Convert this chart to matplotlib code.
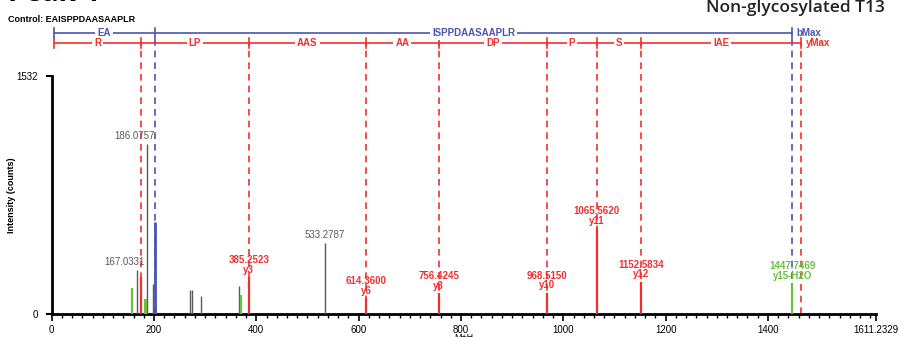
import matplotlib.pyplot as plt
from matplotlib.ticker import MultipleLocator

plt.rcParams['font.family'] = ['Liberation Sans', 'DejaVu Sans']

# peaks
gray_mz = [167.0331, 186.0757, 198.0, 269.4, 274.7, 292.2, 366.8, 533.2787]
gray_int = [284, 1093, 194, 156, 156, 117, 181, 456]
light_mz = [204.5]
light_int = [60]
green_mz = [157.8, 182.0, 185.0, 369.4, 1447.7469]
green_int = [167, 98, 98, 122, 199]
blue_mz = [201.1]
blue_int = [595]
red_mz = [175.3, 385.2523, 614.3600, 756.4245, 968.5150, 1065.5620, 1152.5834]
red_int = [237, 237, 103, 135, 139, 552, 209]

red_labels = [('385.2523', 'y3'), ('614.3600', 'y6'), ('756.4245', 'y8'),
              ('968.5150', 'y10'), ('1065.5620', 'y11'), ('1152.5834', 'y12')]
red_label_mz = [385.2523, 614.3600, 756.4245, 968.5150, 1065.5620, 1152.5834]
red_label_int = [237, 103, 135, 139, 552, 209]

gray_labels = ['167.0331', '186.0757', '533.2787']
gray_label_mz = [142, 161, 533.2787]
gray_label_int = [284, 1093, 456]

# fragment ladder
y_bounds = [4, 175.119, 385.2523, 614.36, 756.4245, 968.515, 1065.562, 1152.5834, 1465.5]
y_names = ['R', 'LP', 'AAS', 'AA', 'DP', 'P', 'S', 'IAE']
b_bounds = [4, 201.1, 1448.0]
b_names = ['EA', 'ISPPDAASAAPLR']

xmax = 1611.2329
ymax = 1532

RED = '#f03030'
BLUE = '#4a55b0'
GREEN = '#6cc040'
GRAY = '#5a5a5a'

fig = plt.figure(figsize=(9.04, 3.37), dpi=100)
ax = fig.add_axes([0.0572, 0.0674, 0.9118, 0.708])
ax.set_xlim(0, xmax)
ax.set_ylim(0, ymax)

y_red_line = 1742
y_blue_line = 1806

# dashed guide lines
for x in y_bounds[1:]:
    ax.plot([x, x], [0, y_red_line], color=RED, lw=1.2, ls=(0, (4, 3)), clip_on=False, zorder=1)
for x in b_bounds[1:]:
    ax.plot([x, x], [0, y_blue_line], color=BLUE, lw=1.2, ls=(0, (4, 3)), clip_on=False, zorder=1)

# peaks
ax.vlines(gray_mz, 0, gray_int, color=GRAY, lw=1.0, zorder=3)
ax.vlines(light_mz, 0, light_int, color='#bbbbbb', lw=1.2, zorder=3)
ax.vlines(green_mz, 0, green_int, color=GREEN, lw=1.6, zorder=3)
ax.vlines(blue_mz, 0, blue_int, color=BLUE, lw=2.0, zorder=3)
ax.vlines(red_mz, 0, red_int, color=RED, lw=1.6, zorder=3)

# peak labels
for (lab, ion), x, h in zip(red_labels, red_label_mz, red_label_int):
    ax.text(x, h + 15, lab + '\n' + ion, color=RED, fontsize=7, fontweight='bold',
            ha='center', va='bottom', linespacing=0.95, zorder=4)
for lab, x, h in zip(gray_labels, gray_label_mz, gray_label_int):
    ax.text(x, h + 20, lab, color=GRAY, fontsize=7, ha='center', va='bottom', zorder=4)
ax.text(1447.7469, 199 + 15, '1447.7469\ny15-H2O', color=GREEN, fontsize=7, fontweight='bold',
        ha='center', va='bottom', linespacing=0.95, zorder=4)

# ladders on top
def ladder(bounds, names, yv, color, end_label):
    ax.plot([bounds[0], bounds[-1]], [yv, yv], color=color, lw=1.2, clip_on=False)
    for x in bounds:
        ax.plot([x, x], [yv - 35, yv + 35], color=color, lw=1.2, clip_on=False)
    for a, b, n in zip(bounds[:-1], bounds[1:], names):
        ax.text((a + b) / 2, yv, n, color=color, fontsize=7, fontweight='bold', ha='center',
                va='center', clip_on=False,
                bbox=dict(facecolor='white', edgecolor='none', pad=1.5))
    ax.text(bounds[-1] + 8, yv, end_label, color=color, fontsize=7, fontweight='bold',
            ha='left', va='center', clip_on=False)

ladder(b_bounds, b_names, y_blue_line, BLUE, 'bMax')
ladder(y_bounds, y_names, y_red_line, RED, 'yMax')

# axes styling
for s in ['top', 'right']:
    ax.spines[s].set_visible(False)
ax.spines['left'].set_linewidth(2)
ax.spines['bottom'].set_linewidth(2)
ax.set_xticks([0, 200, 400, 600, 800, 1000, 1200, 1400, xmax])
ax.set_xticklabels(['0', '200', '400', '600', '800', '1000', '1200', '1400', '1611.2329'])
ax.xaxis.set_minor_locator(MultipleLocator(20))
ax.set_yticks([0, ymax])
ax.set_yticklabels(['0', '1532'])
ax.tick_params(axis='x', which='major', length=5, width=1.2, labelsize=7, pad=3)
ax.tick_params(axis='x', which='minor', length=3, width=1.0)
ax.tick_params(axis='y', length=4, width=1.5, labelsize=7, pad=6)
ax.set_ylabel('Intensity (counts)', fontsize=6.5, fontweight='bold')
ax.yaxis.set_label_coords(-0.043, 0.5)
ax.set_xlabel('M+H', fontsize=6.5, labelpad=-2)

fig.text(0.009, 1 - 19 / 337, 'Control: EAISPPDAASAAPLR', fontsize=6.5, fontweight='bold',
         ha='left', va='center')
fig.text(0.009, 1 - 1 / 337, 'Peak 4', fontsize=20, fontweight='bold',
         family=['Open Sans', 'DejaVu Sans'], ha='left', va='baseline')
fig.text(0.979, 1 - 11.7 / 337, 'Non-glycosylated T13', fontsize=12.5, fontweight='semibold',
         color='#222222', family=['Open Sans', 'DejaVu Sans'], ha='right', va='baseline')

fig.savefig('out.png', dpi=100)
